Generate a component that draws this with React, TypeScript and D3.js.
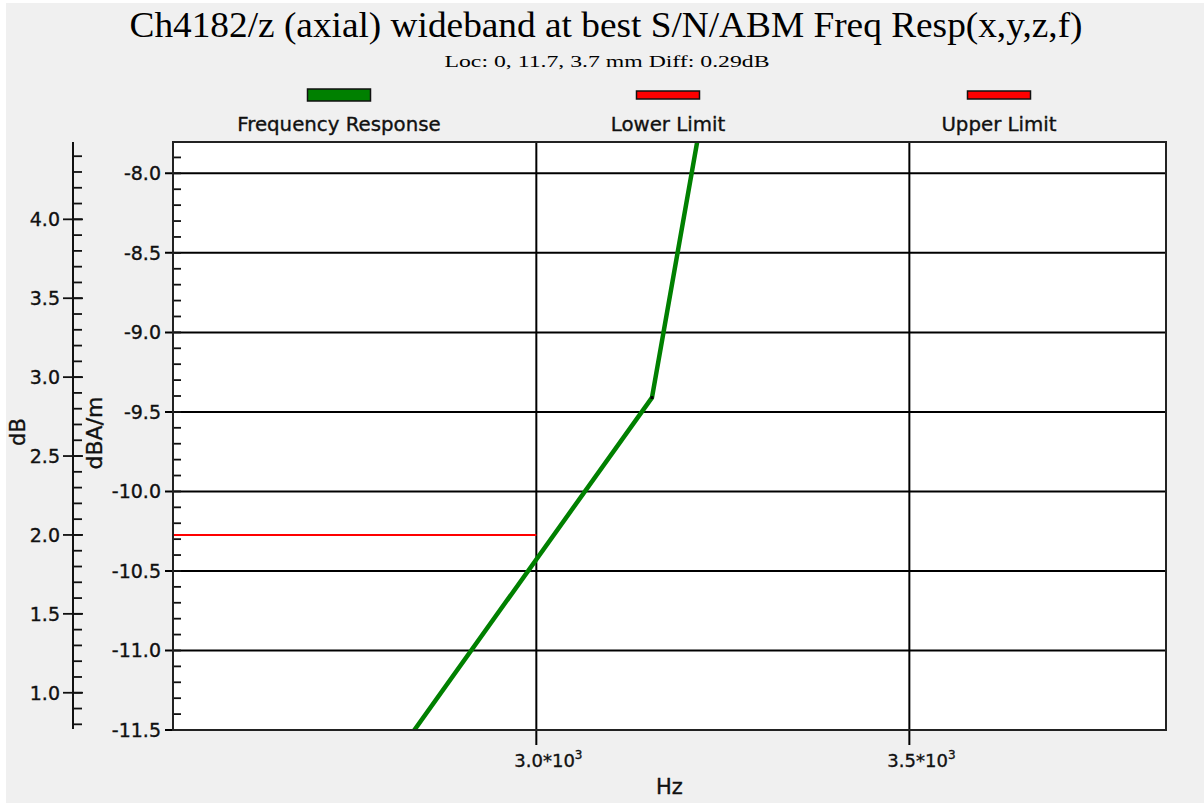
import React from "react";
import * as d3 from "d3";

const titleText = "Ch4182/z (axial) wideband at best S/N/ABM Freq Resp(x,y,z,f)";
const subtitleText = "Loc: 0, 11.7, 3.7 mm Diff: 0.29dB";
const legendNames = ["Frequency Response", "Lower Limit", "Upper Limit"];
const legendColors = ["#008000", "#ff0000", "#ff0000"];
const legendHeights = [12, 8, 8];

const freqDomain = [2513, 3844];
const dbaDomain = [-11.5, -7.803];
const dbDomain = [0.764, 4.49];

const freqTicks = [3000, 3500];
const freqTickMantissa = ["3.0*10", "3.5*10"];
const freqTickExponent = "3";
const dbaTicks = [-8.0, -8.5, -9.0, -9.5, -10.0, -10.5, -11.0, -11.5];
const dbTicks = [4.0, 3.5, 3.0, 2.5, 2.0, 1.5, 1.0];

// Frequency response (dBA/m, inner axis)
const respFreq = [2800, 3155, 3250];
const respVal = [-11.74, -9.41, -6.89];
// Lower limit (dB, outer axis)
const lowerFreq = [2500, 3000];
const lowerVal = [2.0, 2.0];

const W = 1204;
const H = 803;
const P = { l: 173, r: 1166, t: 142, b: 730 };
const SANS = "'DejaVu Sans', Verdana, sans-serif";
const SERIF = "'Liberation Serif', 'Times New Roman', serif";
const TXT = "#111";
const TXT_STROKE = { stroke: "#111", strokeWidth: 0.35 };

export default function App() {
  const x = d3.scaleLinear().domain(freqDomain).range([P.l, P.r]);
  const yA = d3.scaleLinear().domain(dbaDomain).range([P.b, P.t]);
  const yB = d3.scaleLinear().domain(dbDomain).range([P.b, P.t]);

  const respPts = respFreq.map((f, i) => [f, respVal[i]] as [number, number]);
  const lowerPts = lowerFreq.map((f, i) => [f, lowerVal[i]] as [number, number]);
  const respLine = d3
    .line<[number, number]>()
    .x((d) => x(d[0]))
    .y((d) => yA(d[1]))(respPts);
  const lowerLine = d3
    .line<[number, number]>()
    .x((d) => x(d[0]))
    .y((d) => yB(d[1]))(lowerPts);

  const dbaMinor = yA.ticks(40);
  const dbMinor = yB.ticks(40);

  const legendCenters = [339, 668, 999];
  const axisB = 73;

  return (
    <svg
      width={W}
      height={H}
      style={{ position: "absolute", left: 0, top: 0, background: "#fff" }}
    >
      <defs>
        <clipPath id="plotclip">
          <rect x={P.l} y={P.t} width={P.r - P.l} height={P.b - P.t} />
        </clipPath>
      </defs>
      <rect x={6} y={3} width={W - 6} height={H - 3} fill="#f0f0f0" />

      {/* Title */}
      <text
        x={606}
        y={37}
        textAnchor="middle"
        fontFamily={SERIF}
        fontSize={35}
        textLength={953}
        lengthAdjust="spacingAndGlyphs"
        fill="#000"
      >
        {titleText}
      </text>
      <text
        x={607}
        y={67}
        textAnchor="middle"
        fontFamily={SERIF}
        fontSize={17}
        textLength={325}
        lengthAdjust="spacingAndGlyphs"
        fill="#000"
      >
        {subtitleText}
      </text>

      {/* Legend */}
      {legendNames.map((n, i) => (
        <g key={n}>
          <rect
            x={legendCenters[i] - 31.5}
            y={95 - legendHeights[i] / 2}
            width={63}
            height={legendHeights[i]}
            fill={legendColors[i]}
            stroke="#111"
            strokeWidth={1.5}
          />
          <text
            x={legendCenters[i]}
            y={131}
            textAnchor="middle"
            fontFamily={SANS}
            fontSize={19.8}
            fill={TXT}
            {...TXT_STROKE}
          >
            {n}
          </text>
        </g>
      ))}

      {/* Plot area */}
      <rect x={P.l} y={P.t} width={P.r - P.l} height={P.b - P.t} fill="#fff" />

      {/* Grid */}
      {dbaTicks.map((t) => (
        <line key={"gh" + t} x1={P.l - 8} x2={P.r} y1={yA(t)} y2={yA(t)} stroke="#000" strokeWidth={2} />
      ))}
      {freqTicks.map((t) => (
        <line key={"gv" + t} x1={x(t)} x2={x(t)} y1={P.t} y2={P.b + 15} stroke="#000" strokeWidth={2} />
      ))}

      {/* inner axis minor ticks */}
      {dbaMinor.map((t) => (
        <line key={"am" + t} x1={P.l} x2={P.l + 8} y1={yA(t)} y2={yA(t)} stroke="#111" strokeWidth={1.8} />
      ))}

      {/* Data */}
      <g clipPath="url(#plotclip)">
        <path d={lowerLine || ""} fill="none" stroke="#ff0000" strokeWidth={2} />
        <path d={respLine || ""} fill="none" stroke="#008000" strokeWidth={4.5} strokeLinejoin="round" />
        {respPts.map((d, i) => (
          <rect key={"m" + i} x={x(d[0]) - 1.5} y={yA(d[1]) - 1.5} width={3} height={3} fill="#000" />
        ))}
      </g>

      {/* frame */}
      <rect x={P.l} y={P.t} width={P.r - P.l} height={P.b - P.t} fill="none" stroke="#222" strokeWidth={2} />

      {/* inner axis labels */}
      {dbaTicks.map((t) => (
        <text
          key={"al" + t}
          x={161}
          y={yA(t)}
          dy="0.36em"
          textAnchor="end"
          fontFamily={SANS}
          fontSize={19}
          fill={TXT}
          {...TXT_STROKE}
        >
          {t.toFixed(1)}
        </text>
      ))}

      {/* outer dB axis */}
      <line x1={axisB} x2={axisB} y1={P.t} y2={P.b - 1} stroke="#111" strokeWidth={2} />
      {dbMinor.map((t) => (
        <line key={"bm" + t} x1={axisB} x2={axisB + 9} y1={yB(t)} y2={yB(t)} stroke="#111" strokeWidth={1.8} />
      ))}
      {dbTicks.map((t) => (
        <g key={"bt" + t}>
          <line x1={axisB - 10} x2={axisB + 10} y1={yB(t)} y2={yB(t)} stroke="#111" strokeWidth={1.8} />
          <text
            x={60}
            y={yB(t)}
            dy="0.36em"
            textAnchor="end"
            fontFamily={SANS}
            fontSize={19}
            fill={TXT}
            {...TXT_STROKE}
          >
            {t.toFixed(1)}
          </text>
        </g>
      ))}

      {/* x tick labels */}
      {freqTicks.map((t, i) => (
        <text key={"xl" + t} x={x(t) - 22} y={767} fontFamily={SANS} fontSize={18} fill={TXT} {...TXT_STROKE}>
          {freqTickMantissa[i]}
          <tspan fontSize={12} dy={-8}>
            {freqTickExponent}
          </tspan>
        </text>
      ))}

      {/* axis titles */}
      <text x={(P.l + P.r) / 2} y={794} textAnchor="middle" fontFamily={SANS} fontSize={21} fill={TXT} {...TXT_STROKE}>
        Hz
      </text>
      <text
        transform={`translate(25,432) rotate(-90)`}
        textAnchor="middle"
        fontFamily={SANS}
        fontSize={21}
        fill={TXT}
        {...TXT_STROKE}
      >
        dB
      </text>
      <text
        transform={`translate(102,433) rotate(-90)`}
        textAnchor="middle"
        fontFamily={SANS}
        fontSize={22}
        fill={TXT}
        {...TXT_STROKE}
      >
        dBA/m
      </text>
    </svg>
  );
}
